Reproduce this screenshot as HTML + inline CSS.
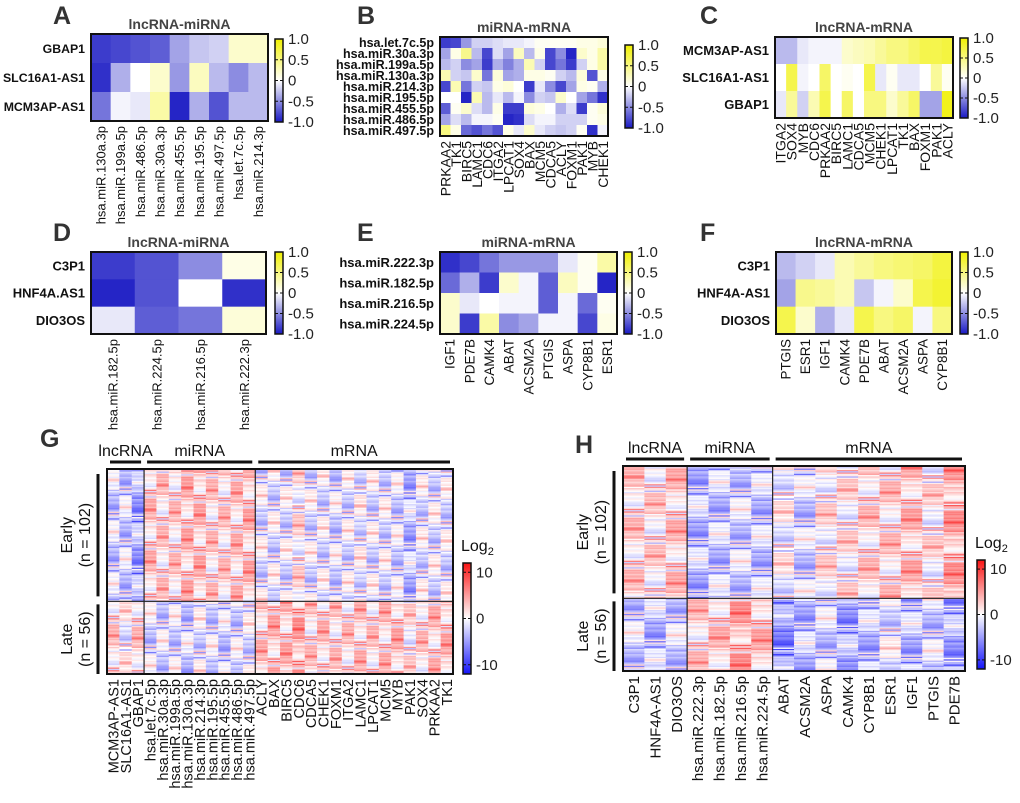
<!DOCTYPE html>
<html><head><meta charset="utf-8"><style>
html,body{margin:0;padding:0;background:#fff}
svg{display:block;font-family:"Liberation Sans",Arial,sans-serif}
</style></head><body>
<svg id="fig" width="1020" height="803" viewBox="0 0 1020 803" xmlns="http://www.w3.org/2000/svg"></svg>
<script>
// ---- Data ----
const aRows=["GBAP1","SLC16A1-AS1","MCM3AP-AS1"];
const aCols=["hsa.miR.130a.3p","hsa.miR.199a.5p","hsa.miR.486.5p","hsa.miR.30a.3p","hsa.miR.455.5p","hsa.miR.195.5p","hsa.miR.497.5p","hsa.let.7c.5p","hsa.miR.214.3p"];
const aVals=[[-0.85,-0.8,-0.75,-0.7,-0.4,-0.25,-0.2,0.2,0.2],[-0.9,-0.35,0,0.2,-0.45,0.25,-0.3,-0.5,-0.3],[-0.6,-0.05,-0.1,0.35,-0.95,-0.35,-0.75,-0.3,-0.3]];
const bRows=["hsa.let.7c.5p","hsa.miR.30a.3p","hsa.miR.199a.5p","hsa.miR.130a.3p","hsa.miR.214.3p","hsa.miR.195.5p","hsa.miR.455.5p","hsa.miR.486.5p","hsa.miR.497.5p"];
const bCols=["PRKAA2","TK1","BIRC5","LAMC1","CDC6","ITGA2","LPCAT1","SOX4","BAX","MCM5","CDCA5","ACLY","FOXM1","PAK1","MYB","CHEK1"];
const bVals=[
[-0.85,-0.8,-0.45,-0.2,-0.2,-0.15,-0.1,-0.1,-0.05,0.05,0.05,0.05,0.05,0.1,0.1,0.15],
[-0.4,0.1,0.45,-0.3,-0.8,-0.15,-0.4,0.25,-0.3,0.1,-0.8,-0.5,-0.95,0.2,0.1,0.35],
[-0.3,-0.2,-0.5,-0.4,-0.85,-0.35,-0.55,-0.35,0.3,-0.2,-0.8,-0.6,-0.85,-0.2,0.1,0.35],
[0.3,-0.2,-0.25,0.2,-0.6,0.15,-0.4,-0.35,0.1,0.1,0.05,-0.2,-0.3,0.15,-0.75,0.1],
[-0.8,0.3,-0.6,-0.2,-0.25,0.1,0.15,0,-0.85,-0.1,-0.5,-0.8,-0.4,0.1,0.05,-0.35],
[0,0,-0.95,0.3,-0.3,-0.1,-0.3,-0.05,-0.5,-0.2,-0.25,0.2,0,-0.4,-0.6,-0.9],
[-0.7,0.05,0.2,-0.15,-0.3,0.1,-0.85,-0.85,0.15,0.1,0,-0.35,-0.15,-0.85,0.05,0.15],
[-0.4,-0.15,-0.3,-0.05,-0.05,0.05,-0.95,-0.9,-0.15,-0.05,-0.05,-0.2,-0.2,-0.2,0.05,0.1],
[0.5,0.1,-0.65,-0.75,-0.6,-0.75,0.1,-0.1,0.2,-0.1,-0.2,-0.25,-0.2,0.05,-0.9,-0.05]];
const cRows=["MCM3AP-AS1","SLC16A1-AS1","GBAP1"];
const cCols=["ITGA2","SOX4","MYB","CDC6","PRKAA2","BIRC5","LAMC1","CDCA5","MCM5","CHEK1","LPCAT1","TK1","BAX","FOXM1","PAK1","ACLY"];
const cVals=[[-0.3,-0.3,-0.1,-0.05,-0.05,-0.05,0.2,0.25,0.3,0.4,0.5,0.5,0.6,0.7,0.7,0.75],
[0,0.7,-0.05,0,0.6,0,0.05,0,0.7,-0.1,0.05,-0.1,-0.1,0,0.4,0.05],
[-0.1,0.4,-0.2,0.3,0.7,0,0.6,0,0.5,0.5,0.2,0.4,0.6,-0.4,-0.4,0.9]];
const dRows=["C3P1","HNF4A.AS1","DIO3OS"];
const dCols=["hsa.miR.182.5p","hsa.miR.224.5p","hsa.miR.216.5p","hsa.miR.222.3p"];
const dVals=[[-0.85,-0.75,-0.5,0.1],[-0.95,-0.75,0,-0.9],[-0.1,-0.7,-0.6,0.15]];
const eRows=["hsa.miR.222.3p","hsa.miR.182.5p","hsa.miR.216.5p","hsa.miR.224.5p"];
const eCols=["IGF1","PDE7B","CAMK4","ABAT","ACSM2A","PTGIS","ASPA","CYP8B1","ESR1"];
const eVals=[[-0.9,-0.8,-0.6,-0.45,-0.45,-0.45,-0.1,0.05,0.35],[-0.65,-0.35,-0.85,0.2,-0.05,-0.7,0.25,0.05,-0.95],[0.2,-0.1,0,-0.05,-0.05,-0.7,-0.05,-0.65,0.05],[0.2,-0.85,0.35,-0.5,-0.4,-0.05,-0.05,-0.8,0.1]];
const fRows=["C3P1","HNF4A-AS1","DIO3OS"];
const fCols=["PTGIS","ESR1","IGF1","CAMK4","PDE7B","ABAT","ACSM2A","ASPA","CYP8B1"];
const fVals=[[-0.3,-0.2,-0.1,0.3,0.4,0.5,0.55,0.6,0.75],[-0.4,0.45,0.4,0.3,-0.25,-0.05,0.2,0.7,0.8],[0.7,0.2,-0.35,-0.1,0.7,0.5,0.6,-0.05,0.5]];
const gCols=["MCM3AP-AS1","SLC16A1-AS1","GBAP1","hsa.let.7c.5p","hsa.miR.30a.3p","hsa.miR.199a.5p","hsa.miR.130a.3p","hsa.miR.214.3p","hsa.miR.195.5p","hsa.miR.455.5p","hsa.miR.486.5p","hsa.miR.497.5p","ACLY","BAX","BIRC5","CDC6","CDCA5","CHEK1","FOXM1","ITGA2","LAMC1","LPCAT1","MCM5","MYB","PAK1","SOX4","PRKAA2","TK1"];
const gEarly=[-2,-2,-4,2.5,2,2,3,3,2,2,2.5,3,-1,-1,-1,1,-1,-1,-1.5,-1,-0.5,-1,-1,-1.5,-3,-1,-1,-1];
const gLate=[2,0,2,-1.5,-1.5,-1.5,-2,-1,-1.5,-2,-1.5,-1,2.5,3,3,4,2,2.5,2,2,2.5,2,2.5,3,1,2,2.5,3];
const hCols=["C3P1","HNF4A-AS1","DIO3OS","hsa.miR.222.3p","hsa.miR.182.5p","hsa.miR.216.5p","hsa.miR.224.5p","ABAT","ACSM2A","ASPA","CAMK4","CYP8B1","ESR1","IGF1","PTGIS","PDE7B"];
const hEarly=[2,1.5,2.5,-3,-2.5,-2,-2.5,0,-2,1,1,2,2,3,1,4];
const hLate=[-2,-3,-2,2,2.5,4,3,-5,-3,-2,-4,-3,-1,-3,-2,-4];
const jitter=[3,-2,1,-4,0,5,-1,2,-3,4,-5,1,0,-2,3,-1,6,-3,2,0,-4,1,-2,4,-1,3,-6,0,2,-3,1,5,-2,0,-1,3,-4,2,-5,1];
const nEarly=102, nLate=56;

const S=document.getElementById('fig');
const NS="http://www.w3.org/2000/svg";
function el(tag,attrs,parent,txt){const e=document.createElementNS(NS,tag);for(const k in attrs)e.setAttribute(k,attrs[k]);if(txt!==undefined)e.textContent=txt;(parent||S).appendChild(e);return e;}
function mix(a,b,t){return `rgb(${Math.round(a[0]+(b[0]-a[0])*t)},${Math.round(a[1]+(b[1]-a[1])*t)},${Math.round(a[2]+(b[2]-a[2])*t)})`;}
function ybColor(v){v=Math.max(-1,Math.min(1,v));return v<0?mix([255,255,255],[25,25,195],-v):mix([255,255,255],[240,240,0],v);}
function rbColor(v){let t=Math.max(-1,Math.min(1,v/12));return t<0?mix([255,255,255],[20,20,250],-t):mix([255,255,255],[250,20,20],t);}

function ybColorbar(g,x,y0,y1){
  const id='yb'+x+'_'+y0;
  const lg=el('linearGradient',{id:id,x1:0,y1:1,x2:0,y2:0},el('defs',{},g));
  el('stop',{offset:'0',"stop-color":ybColor(-1)},lg);el('stop',{offset:'0.5',"stop-color":'#fff'},lg);el('stop',{offset:'1',"stop-color":ybColor(1)},lg);
  const cb=el('rect',{x:x,y:y0,width:8,height:y1-y0,fill:`url(#${id})`,stroke:'#111','stroke-width':1.5},g);
  
  const ticks=[1,0.5,0,-0.5,-1],lab=["1.0","0.5","0","-0.5","-1.0"];
  ticks.forEach((t,i)=>{const yy=y0+(1-t)/2*(y1-y0);
    el('line',{x1:x,x2:x+3,y1:yy,y2:yy,stroke:'#111'},g);el('line',{x1:x+5,x2:x+8,y1:yy,y2:yy,stroke:'#111'},g);
    const tx=el('text',{x:x+13,y:yy+5,'font-size':15,fill:'#222'},g,lab[i]);
    });
}
function smallPanel(name,letter,lx,ly,title,rows,cols,vals,x0,x1,y0,y1,cbx,cby0,cby1,rowFont,colFont){
  const g=el('g',{});
  const L=el('text',{x:lx,y:ly,'font-size':25,'font-weight':'bold',fill:'#333'},g,letter);
  
  const T=el('text',{x:(x0+x1)/2,y:y0-5,'font-size':14,'font-weight':'bold',fill:'#444','text-anchor':'middle'},g,title);
  
  const cw=(x1-x0)/cols.length,rh=(y1-y0)/rows.length;
  rows.forEach((r,i)=>{cols.forEach((c,j)=>{
    const cell=el('rect',{x:x0+j*cw,y:y0+i*rh,width:cw+0.4,height:rh+0.4,fill:ybColor(vals[i][j])},g);
    });
    const rl=el('text',{x:x0-6,y:y0+(i+0.5)*rh+rowFont*0.36,'font-size':rowFont,'font-weight':'bold','text-anchor':'end',fill:'#111'},g,r);
    });
  el('rect',{x:x0,y:y0,width:x1-x0,height:y1-y0,fill:'none',stroke:'#111','stroke-width':2},g);
  cols.forEach((c,j)=>{const cx=x0+(j+0.5)*cw+colFont*0.36,ty=y1+5;
    const cl=el('text',{x:cx,y:ty,'font-size':colFont,'text-anchor':'end',fill:'#111',transform:`rotate(-90 ${cx} ${ty})`},g,c);
    });
  ybColorbar(g,cbx,cby0,cby1);
}
smallPanel('panel-a','A',53,24,'lncRNA-miRNA',aRows,aCols,aVals,91,268,34,121,275,39,122,12.3,13);
smallPanel('panel-b','B',357,24,'miRNA-mRNA',bRows,bCols,bVals,440,608,37,136,625,45,128,12.5,14);
smallPanel('panel-c','C',700,24,'lncRNA-mRNA',cRows,cCols,cVals,775,953,37,118,960,38,118,13,14);
smallPanel('panel-d','D',53,241,'lncRNA-miRNA',dRows,dCols,dVals,91,266,252,334,275,252,334,13,13);
smallPanel('panel-e','E',357,241,'miRNA-mRNA',eRows,eCols,eVals,440,617,252,334,624,252,334,13,13.5);
smallPanel('panel-f','F',700,241,'lncRNA-mRNA',fRows,fCols,fVals,776,952,252,334,960,252,334,13,13.5);

function bigPanel(name,letter,lx,ly,cols,early,late,x0,x1,y0,y1,groups,divs,cbx,cby0,cby1,barX,colFont){
  const g=el('g',{});
  const L=el('text',{x:lx,y:ly,'font-size':25,'font-weight':'bold',fill:'#333'},g,letter);
  
  const n=nEarly+nLate,cw=(x1-x0)/cols.length,rh=(y1-y0)/n;
  for(let r=0;r<n;r++){const base=r<nEarly?early:late;
    cols.forEach((c,j)=>{const v=base[j]+jitter[(r*7+j*13)%jitter.length]*0.9;
      const cell=el('rect',{x:x0+j*cw,y:y0+r*rh,width:cw+0.4,height:rh+0.4,fill:rbColor(v)},g);
      });}
  const ys=y0+nEarly*rh;
  el('line',{x1:x0,x2:x1,y1:ys,y2:ys,stroke:'#333','stroke-width':1.2},g);
  divs.forEach(d=>{const xx=x0+d*cw;el('line',{x1:xx,x2:xx,y1:y0,y2:y1,stroke:'#222','stroke-width':1.2},g);});
  el('rect',{x:x0,y:y0,width:x1-x0,height:y1-y0,fill:'none',stroke:'#111','stroke-width':2},g);
  groups.forEach(gr=>{const a=x0+gr[1]*cw+3,b=x0+gr[2]*cw-3;
    el('line',{x1:a,x2:b,y1:y0-7,y2:y0-7,stroke:'#111','stroke-width':3},g);
    const t=el('text',{x:(a+b)/2,y:y0-13,'font-size':16,'text-anchor':'middle',fill:'#111'},g,gr[0]);
    });
  [[y0+5,ys-5,'Early','(n = 102)'],[ys+3,y1,'Late','(n = 56)']].forEach(s=>{
    el('line',{x1:barX,x2:barX,y1:s[0],y2:s[1],stroke:'#111','stroke-width':3},g);
    const cy=(s[0]+s[1])/2;
    const t1=el('text',{x:barX-26,y:cy,'font-size':16,'text-anchor':'middle',fill:'#111',transform:`rotate(-90 ${barX-26} ${cy})`},g,s[2]);
    
    const t2=el('text',{x:barX-8,y:cy,'font-size':16,'text-anchor':'middle',fill:'#111',transform:`rotate(-90 ${barX-8} ${cy})`},g,s[3]);
    });
  cols.forEach((c,j)=>{const cx=x0+(j+0.5)*cw+colFont*0.36,ty=y1+5;
    const cl=el('text',{x:cx,y:ty,'font-size':colFont,'text-anchor':'end',fill:'#111',transform:`rotate(-90 ${cx} ${ty})`},g,c);
    });
  const id='rb'+cbx;
  const lg=el('linearGradient',{id:id,x1:0,y1:1,x2:0,y2:0},el('defs',{},g));
  el('stop',{offset:'0',"stop-color":rbColor(-12)},lg);el('stop',{offset:'0.5',"stop-color":'#fff'},lg);el('stop',{offset:'1',"stop-color":rbColor(12)},lg);
  const cb=el('rect',{x:cbx,y:cby0,width:8,height:cby1-cby0,fill:`url(#${id})`,stroke:'#111','stroke-width':1.5},g);
  
  const lt=el('text',{x:cbx-2,y:cby0-12,'font-size':16,fill:'#111'},g);
  
  lt.appendChild(document.createTextNode('Log'));el('tspan',{'font-size':11,dy:4},lt,'2');
  [[10,'10'],[0,'0'],[-10,'-10']].forEach(t=>{const yy=cby0+(12-t[0])/24*(cby1-cby0);
    el('line',{x1:cbx,x2:cbx+3,y1:yy,y2:yy,stroke:'#111'},g);el('line',{x1:cbx+5,x2:cbx+8,y1:yy,y2:yy,stroke:'#111'},g);
    const tx=el('text',{x:cbx+13,y:yy+5,'font-size':15,fill:'#222'},g,t[1]);
    });
}
bigPanel('panel-g','G',40,447,gCols,gEarly,gLate,107,453,469,674,[['lncRNA',0,3],['miRNA',3,12],['mRNA',12,28]],[3,12],463,563,674,98,14.5);
bigPanel('panel-h','H',575,453,hCols,hEarly,hLate,623,965,466,671,[['lncRNA',0,3],['miRNA',3,7],['mRNA',7,16]],[3,7],977,560,669,614,15);
</script>
</body></html>
